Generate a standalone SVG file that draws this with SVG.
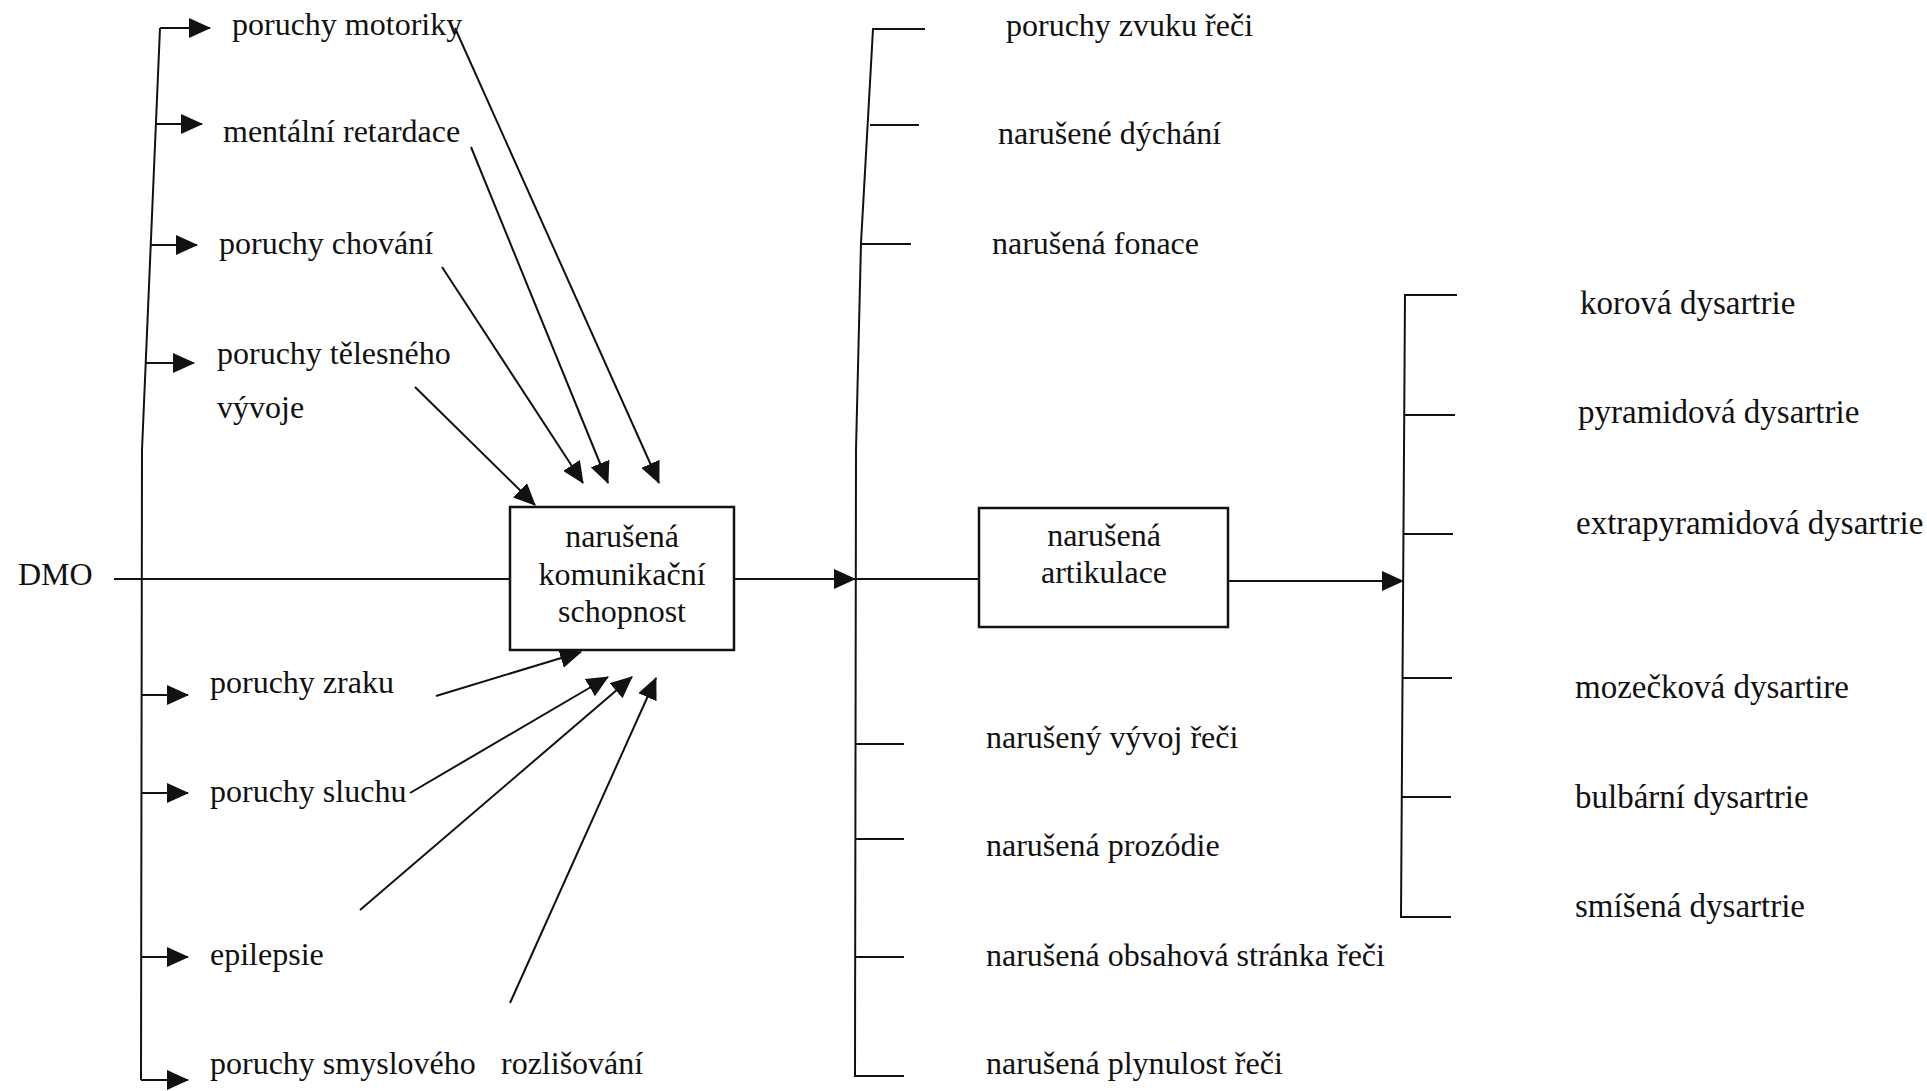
<svg xmlns="http://www.w3.org/2000/svg" width="1927" height="1091" viewBox="0 0 1927 1091">
<style>
text{font-family:"Liberation Serif","Times New Roman",serif;font-size:32px;fill:#111}
.c{text-anchor:middle}
.d{font-size:33px}
.ln{stroke:#111;stroke-width:2;fill:none}
.bx{stroke:#111;stroke-width:2.5;fill:#fff}
.ar{marker-end:url(#ah)}
</style>
<defs>
<marker id="ah" viewBox="0 0 22 20" refX="21" refY="10" markerWidth="22" markerHeight="20" markerUnits="userSpaceOnUse" orient="auto"><path d="M0,0 L22,10 L0,20 z" fill="#111"/></marker>
</defs>
<rect width="1927" height="1091" fill="#fff"/>
<g id="connectors">
<polyline class="ln" points="160,28 142,450 141,1080"/>
<line class="ln ar" x1="160" y1="28" x2="210" y2="28"/>
<line class="ln ar" x1="155" y1="124" x2="202" y2="124"/>
<line class="ln ar" x1="150" y1="245" x2="197" y2="245"/>
<line class="ln ar" x1="145" y1="363" x2="194" y2="363"/>
<line class="ln ar" x1="141" y1="695" x2="188" y2="695"/>
<line class="ln ar" x1="141" y1="793" x2="188" y2="793"/>
<line class="ln ar" x1="141" y1="957" x2="188" y2="957"/>
<line class="ln ar" x1="141" y1="1080" x2="188" y2="1080"/>
<line class="ln" x1="114" y1="579" x2="510" y2="579"/>
<line class="ln ar" x1="455" y1="28" x2="659" y2="483"/>
<line class="ln ar" x1="471" y1="147" x2="608" y2="483"/>
<line class="ln ar" x1="442" y1="267" x2="583" y2="483"/>
<line class="ln ar" x1="415" y1="387" x2="535" y2="505"/>
<line class="ln ar" x1="436" y1="696" x2="581" y2="652"/>
<line class="ln ar" x1="410" y1="793" x2="608" y2="677"/>
<line class="ln ar" x1="360" y1="910" x2="632" y2="677"/>
<line class="ln ar" x1="510" y1="1003" x2="656" y2="678"/>
<line class="ln ar" x1="734" y1="579" x2="855" y2="579"/>
<polyline class="ln" points="925,29 873,29 861,243 856,450 855,1076 904,1076"/>
<line class="ln" x1="870" y1="125" x2="919" y2="125"/>
<line class="ln" x1="861" y1="244" x2="911" y2="244"/>
<line class="ln" x1="855" y1="744" x2="904" y2="744"/>
<line class="ln" x1="855" y1="839" x2="904" y2="839"/>
<line class="ln" x1="855" y1="957" x2="904" y2="957"/>
<line class="ln" x1="855" y1="579" x2="979" y2="579"/>
<line class="ln ar" x1="1228" y1="581" x2="1403" y2="581"/>
<polyline class="ln" points="1457,295 1405,295 1401,917 1451,917"/>
<line class="ln" x1="1404" y1="415" x2="1455" y2="415"/>
<line class="ln" x1="1404" y1="534" x2="1453" y2="534"/>
<line class="ln" x1="1402" y1="678" x2="1452" y2="678"/>
<line class="ln" x1="1402" y1="797" x2="1451" y2="797"/>
</g>
<g id="dmo"><text x="18" y="585">DMO</text></g>
<g id="n-motorika"><text x="232" y="35">poruchy motoriky</text></g>
<g id="n-mr"><text x="223" y="142">mentální retardace</text></g>
<g id="n-chovani"><text x="219" y="254">poruchy chování</text></g>
<g id="n-telesny"><text x="217" y="364">poruchy tělesného</text><text x="217" y="418">vývoje</text></g>
<g id="n-zrak"><text x="210" y="693">poruchy zraku</text></g>
<g id="n-sluch"><text x="210" y="802">poruchy sluchu</text></g>
<g id="n-epilepsie"><text x="210" y="965">epilepsie</text></g>
<g id="n-smysly"><text x="210" y="1074">poruchy smyslového<tspan x="501">rozlišování</tspan></text></g>
<g id="box-komunikace">
<rect class="bx" x="510" y="507" width="224" height="143"/>
<text class="c" x="622" y="547">narušená</text>
<text class="c" x="622" y="585">komunikační</text>
<text class="c" x="622" y="622">schopnost</text>
</g>
<g id="box-artikulace">
<rect class="bx" x="979" y="508" width="249" height="119"/>
<text class="c" x="1104" y="546">narušená</text>
<text class="c" x="1104" y="583">artikulace</text>
</g>
<g id="r-zvuk"><text x="1006" y="36">poruchy zvuku řeči</text></g>
<g id="r-dychani"><text x="998" y="144">narušené dýchání</text></g>
<g id="r-fonace"><text x="992" y="254">narušená fonace</text></g>
<g id="r-vyvoj"><text x="986" y="748">narušený vývoj řeči</text></g>
<g id="r-prozodie"><text x="986" y="856">narušená prozódie</text></g>
<g id="r-obsah"><text x="986" y="966">narušená obsahová stránka řeči</text></g>
<g id="r-plynulost"><text x="986" y="1074">narušená plynulost řeči</text></g>
<g id="d-korova"><text class="d" x="1580" y="314">korová dysartrie</text></g>
<g id="d-pyramidova"><text class="d" x="1578" y="423">pyramidová dysartrie</text></g>
<g id="d-extrapyramidova"><text class="d" x="1576" y="534">extrapyramidová dysartrie</text></g>
<g id="d-mozeckova"><text class="d" x="1575" y="698">mozečková dysartire</text></g>
<g id="d-bulbarni"><text class="d" x="1575" y="808">bulbární dysartrie</text></g>
<g id="d-smisena"><text class="d" x="1575" y="917">smíšená dysartrie</text></g>
</svg>
